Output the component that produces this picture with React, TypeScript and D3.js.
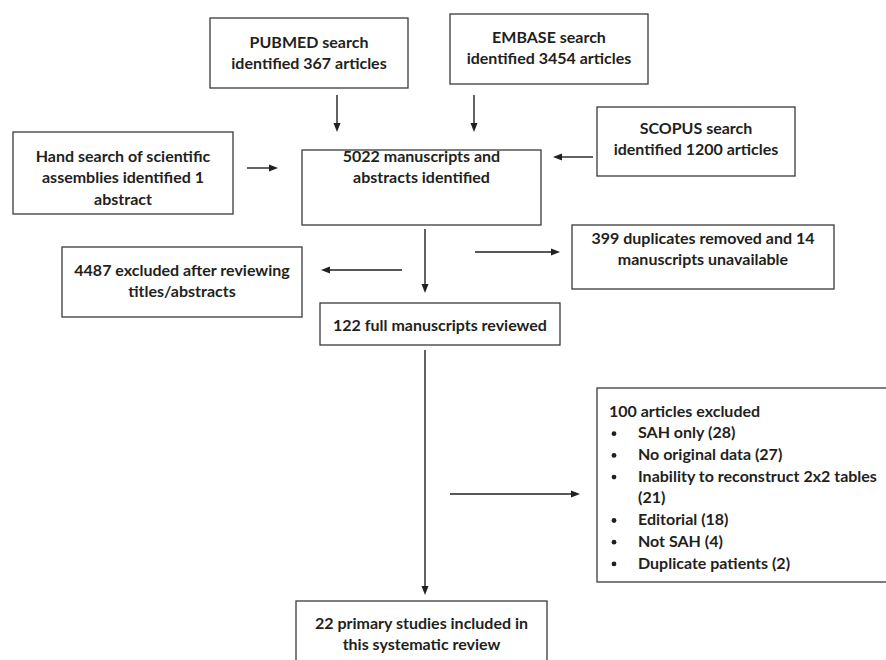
import {useEffect, useRef} from "react";
import * as d3 from 'd3';

// box labels
const pubmedLines = ["PUBMED search", "identified 367 articles"];
const embaseLines = ["EMBASE search", "identified 3454 articles"];
const scopusLines = ["SCOPUS search", "identified 1200 articles"];
const handLines = ["Hand search of scientific", "assemblies identified 1", "abstract"];
const identifiedLines = ["5022 manuscripts and", "abstracts identified"];
const duplicateLines = ["399 duplicates removed and 14", "manuscripts unavailable"];
const excludedLines = ["4487 excluded after reviewing", "titles/abstracts"];
const reviewedLines = ["122 full manuscripts reviewed"];
const includedLines = ["22 primary studies included in", "this systematic review"];

const fullTextHeader = "100 articles excluded";
const fullTextReasons = [
  ["SAH only (28)"],
  ["No original data (27)"],
  ["Inability to reconstruct 2x2 tables", "(21)"],
  ["Editorial (18)"],
  ["Not SAH (4)"],
  ["Duplicate patients (2)"],
];

// layout: x, y, w, h, first text line centre
const boxes = [
  {lines: pubmedLines, x: 210, y: 18, w: 198, h: 70, ty: 42},
  {lines: embaseLines, x: 450, y: 14, w: 198, h: 70, ty: 37},
  {lines: scopusLines, x: 597, y: 107, w: 198, h: 69, ty: 128},
  {lines: handLines, x: 13, y: 132, w: 220, h: 82, ty: 156},
  {lines: identifiedLines, x: 302, y: 150, w: 239, h: 75, ty: 156},
  {lines: duplicateLines, x: 572, y: 225, w: 262, h: 64, ty: 238},
  {lines: excludedLines, x: 62, y: 247, w: 240, h: 70, ty: 270},
  {lines: reviewedLines, x: 320, y: 303, w: 240, h: 42, ty: 325},
  {lines: includedLines, x: 296, y: 601, w: 251, h: 70, ty: 623},
];

const arrows: [number, number, number, number][] = [
  [337, 95, 337, 132],
  [474, 95, 474, 132],
  [247, 168, 278, 168],
  [593, 157, 553, 157],
  [425, 229, 425, 293],
  [402, 270, 321, 270],
  [475, 252, 560, 252],
  [425, 350, 425, 595],
  [450, 494, 580, 494],
];

const W = 886, H = 660;
const LINE = 21.5;
const FONT = "Lato, 'Open Sans', sans-serif";
const FS = 16;
const INK = '#231f20';

export default function App() {
  const svgRef = useRef<SVGSVGElement>(null);

  useEffect(() => {
    const svg = d3.select(svgRef.current);
    svg.selectAll('*').remove();
    svg.attr('width', W).attr('height', H);

    svg.append('rect').attr('width', W).attr('height', H).attr('fill', '#fff');

    const line = d3.line();

    // boxes
    const g = svg.append('g').selectAll('g').data(boxes).join('g');
    g.append('rect')
      .attr('x', d => d.x).attr('y', d => d.y)
      .attr('width', d => d.w).attr('height', d => d.h)
      .attr('fill', 'none').attr('stroke', '#3a3a3a').attr('stroke-width', 1.3);
    g.each(function (d) {
      d3.select(this).selectAll('text').data(d.lines).join('text')
        .attr('x', d.x + d.w / 2)
        .attr('y', (_, i) => d.ty + i * LINE)
        .attr('dy', '0.35em')
        .attr('text-anchor', 'middle')
        .attr('font-family', FONT).attr('font-weight', 700)
        .attr('font-size', FS).attr('fill', INK)
        .text(t => t);
    });

    // exclusion box with bullet list
    const bx = 597, by = 388;
    svg.append('rect')
      .attr('x', bx).attr('y', by).attr('width', 300).attr('height', 194)
      .attr('fill', 'none').attr('stroke', '#3a3a3a').attr('stroke-width', 1.3);
    const rows: {t: string, bullet: boolean}[] = [{t: fullTextHeader, bullet: false}];
    fullTextReasons.forEach(r => r.forEach((t, i) => rows.push({t, bullet: i === 0})));
    const list = svg.append('g');
    rows.forEach((r, i) => {
      const cy = 411 + i * 21.7;
      if (i === 0) {
        list.append('text').attr('x', 609).attr('y', cy).attr('dy', '0.35em')
          .attr('font-family', FONT).attr('font-weight', 700).attr('font-size', FS)
          .attr('fill', INK).text(r.t);
        return;
      }
      if (r.bullet) {
        list.append('circle').attr('cx', 614).attr('cy', cy + 1).attr('r', 2.4).attr('fill', INK);
      }
      list.append('text').attr('x', 638).attr('y', cy).attr('dy', '0.35em')
        .attr('font-family', FONT).attr('font-weight', 700).attr('font-size', FS)
        .attr('fill', INK).text(r.t);
    });

    // arrows
    const ag = svg.append('g');
    arrows.forEach(([x1, y1, x2, y2]) => {
      const ang = Math.atan2(y2 - y1, x2 - x1);
      const L = 9, hw = 3.5;
      const bxp = x2 - L * Math.cos(ang), byp = y2 - L * Math.sin(ang);
      ag.append('path')
        .attr('d', line([[x1, y1], [bxp, byp]]))
        .attr('stroke', INK).attr('stroke-width', 1.4).attr('fill', 'none');
      ag.append('path')
        .attr('d', line([
          [x2, y2],
          [bxp - hw * Math.sin(ang), byp + hw * Math.cos(ang)],
          [bxp + hw * Math.sin(ang), byp - hw * Math.cos(ang)],
        ]) + 'Z')
        .attr('fill', INK);
    });
  }, []);

  return (
    <svg ref={svgRef} style={{position: 'absolute', left: 0, top: 0, display: 'block'}}></svg>
  );
}
